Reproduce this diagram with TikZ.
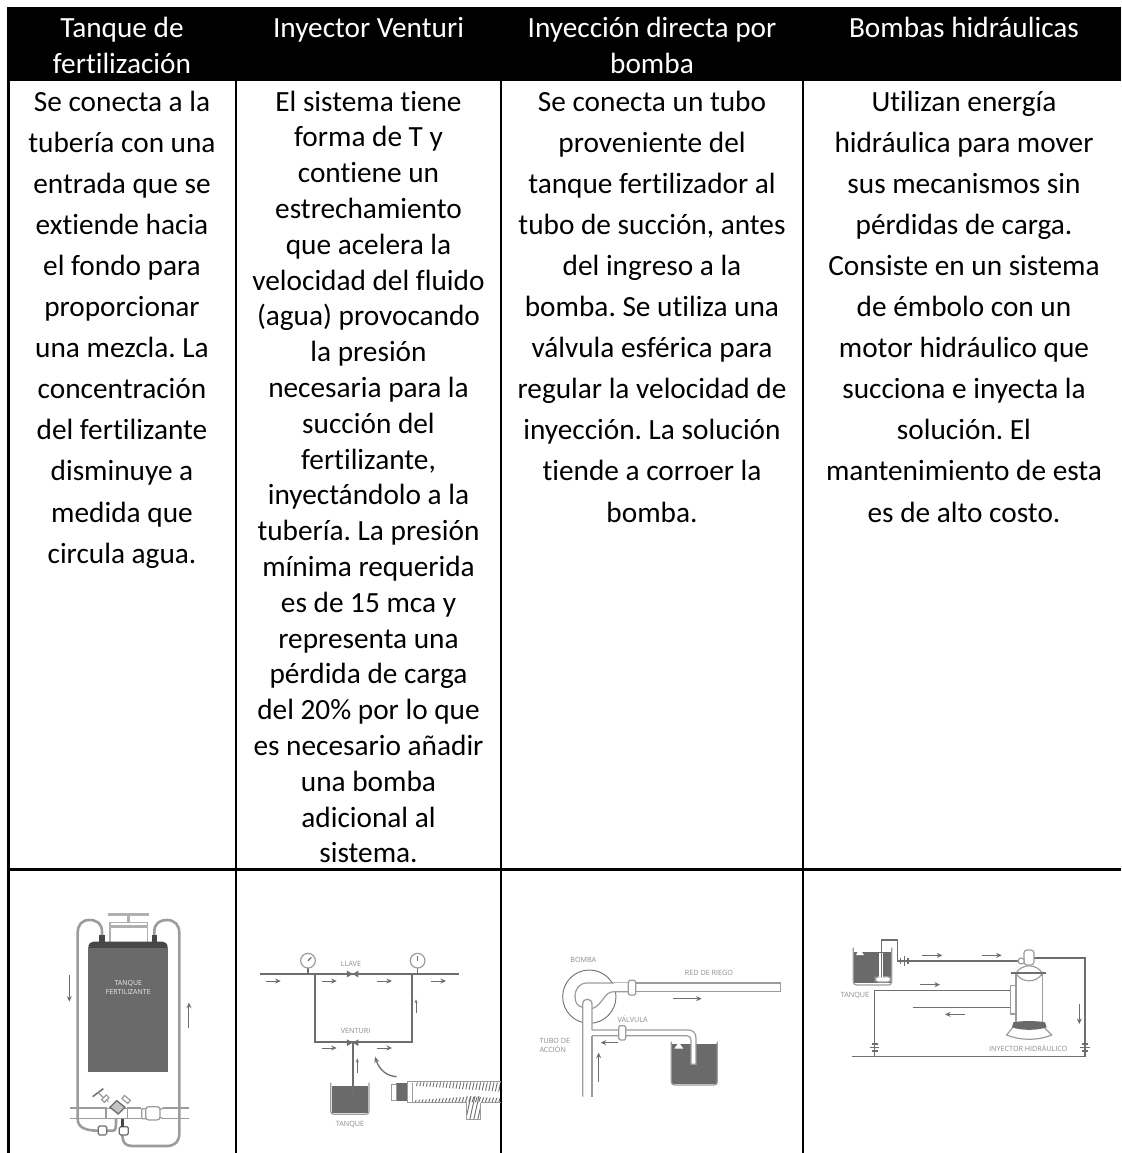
\documentclass[tikz,border=0pt]{standalone}
\usepackage{fontspec}
\setmainfont[Ligatures=NoCommon]{Carlito}
\newfontfamily\labelfont{Open Sans}
\usetikzlibrary{arrows.meta}
\newcommand{\firstline}{\rule{0pt}{26pt}}
\frenchspacing
\tikzset{
  rulebk/.style={line width=2.4pt,black},
  cellA/.style={anchor=north,inner sep=0pt,align=center,font=\fontsize{29.3}{41.1}\selectfont},
  cellB/.style={anchor=north,inner sep=0pt,align=center,font=\fontsize{29.3}{35.8}\selectfont},
  headcell/.style={anchor=north,inner sep=0pt,align=center,text=white,font=\fontsize{29.3}{36}\selectfont},
  tag/.style={inner sep=0pt,align=left,text=gray!90,font=\labelfont\fontsize{7.2}{9}\selectfont},
  pipe/.style={draw=graphite,line width=1.9pt},
  thin pipe/.style={draw=graphite,line width=1.2pt},
  flow/.style={draw=graphite,line width=1pt,-{Stealth[length=5.5pt,width=5pt]}},
}
\definecolor{graphite}{HTML}{6E6E6E}
\definecolor{softgray}{HTML}{9C9C9C}
\definecolor{tankgray}{HTML}{6A6A6A}
\definecolor{tankdark}{HTML}{474747}
\begin{document}
\begin{tikzpicture}[x=1pt,y=-1pt]
\useasboundingbox (0,0) rectangle (1121,1153);
\fill[white] (0,0) rectangle (1121,1153);
% header band
\fill[black] (7,7) rectangle (1121,81.5);
% rules
\draw[rulebk] (8.5,81) -- (8.5,1153);
\draw[rulebk] (236,81) -- (236,1153);
\draw[rulebk] (501,81) -- (501,1153);
\draw[rulebk] (803,81) -- (803,1153);
\draw[rulebk] (8,869.5) -- (1121,869.5);
% header text
\node[headcell] (h1) at (122,11.6) {\firstline Tanque de\\fertilización};
\node[headcell] (h2) at (368.5,11.6) {\firstline Inyector Venturi};
\node[headcell] (h3) at (652,11.6) {\firstline Inyección directa por\\bomba};
\node[headcell] (h4) at (964,11.6) {\firstline Bombas hidráulicas};
% body text
\node[cellA] (b1) at (122,84.8) {\firstline Se conecta a la\\tubería con una\\entrada que se\\extiende hacia\\el fondo para\\proporcionar\\una mezcla. La\\concentración\\del fertilizante\\disminuye a\\medida que\\circula agua.};
\node[cellB] (b2) at (368.5,84.8) {\firstline El sistema tiene\\forma de T y\\contiene un\\estrechamiento\\que acelera la\\velocidad del fluido\\(agua) provocando\\la presión\\necesaria para la\\succión del\\fertilizante,\\inyectándolo a la\\tubería. La presión\\mínima requerida\\es de 15 mca y\\representa una\\pérdida de carga\\del 20\% por lo que\\es necesario añadir\\una bomba\\adicional al\\sistema.};
\node[cellA] (b3) at (652,84.8) {\firstline Se conecta un tubo\\proveniente del\\tanque fertilizador al\\tubo de succión, antes\\del ingreso a la\\bomba. Se utiliza una\\válvula esférica para\\regular la velocidad de\\inyección. La solución\\tiende a corroer la\\bomba.};
\node[cellA] (b4) at (964,84.8) {\firstline Utilizan energía\\hidráulica para mover\\sus mecanismos sin\\pérdidas de carga.\\Consiste en un sistema\\de émbolo con un\\motor hidráulico que\\succiona e inyecta la\\solución. El\\mantenimiento de esta\\es de alto costo.};

% ---------- figure 1: tanque
\begin{scope}[shift={(0,870)},x=.3333pt,y=-.3333pt]
  % handle
  \draw[softgray!80,line width=3pt] (323,132) -- (447,132);
  \draw[softgray!80,line width=3.6pt] (386,135) -- (386,158);
  \draw[softgray!80,line width=1.6pt] (330,215) -- (330,158) -- (442,158) -- (442,215);
  \draw[softgray!80,line width=2.4pt] (330,170) -- (442,170);
  % feed pipes
  \draw[softgray,line width=2.6pt] (306,195) -- (306,185) .. controls (306,160) and (290,150) .. (268,150) .. controls (245,150) and (233,165) .. (233,190) -- (233,745) .. controls (233,770) and (250,782) .. (296,782);
  \draw[softgray,line width=2.6pt] (463,195) -- (463,185) .. controls (463,160) and (480,150) .. (500,150) .. controls (525,150) and (538,165) .. (538,190) -- (538,790) .. controls (538,815) and (525,828) .. (500,828) -- (395,828) .. controls (375,828) and (367,815) .. (367,795);
  \draw[softgray,line width=2.6pt] (320,782) -- (340,782) .. controls (348,782) and (348,770) .. (348,747);
  \fill[tankdark] (298,195) rectangle (315,215);
  \fill[tankdark] (455,195) rectangle (472,215);
  % tank
  \fill[tankgray] (265,230) rectangle (503,606);
  \fill[tankdark,rounded corners=5pt] (265,240) -- (265,215) -- (503,215) -- (503,240) -- cycle;
  \fill[tankgray] (265,233) rectangle (503,245);
  \node[text=white!85!gray,align=center,inner sep=0pt,font=\labelfont\fontsize{7}{9}\selectfont] (t1) at (385,352) {TANQUE\\FERTILIZANTE};
  % arrows
  \draw[flow] (208,315) -- (208,395);
  \draw[flow] (567,475) -- (567,398);
  % main pipe
  \draw[softgray,line width=1.2pt] (210,714) -- (320,714) (382,714) -- (424,714) (490,714) -- (567,714);
  \draw[softgray,line width=1.2pt] (210,746) -- (320,746) (382,746) -- (424,746) (490,746) -- (567,746);
  % valve
  \draw[softgray,line width=1.5pt,fill=white] (318,716) -- (383,716) -- (383,746) -- (318,746) -- cycle;
  \draw[graphite,line width=1.3pt,fill=softgray!60] (350,692) -- (375,712) -- (355,732) -- (330,712) -- cycle;
  \draw[graphite,line width=1.5pt] (278,680) -- (310,656);
  \draw[softgray,line width=1.2pt] (294,668) -- (325,695);
  \draw[softgray,line width=1.2pt,fill=white,rotate around={45:(316,686)}] (306,680) rectangle (326,692);
  \draw[softgray,line width=1.2pt,fill=white,rotate around={-40:(378,688)}] (367,682) rectangle (390,694);
  % meter
  \draw[softgray,line width=1.3pt,fill=white,rounded corners=3pt] (437,710) rectangle (480,750);
  \draw[softgray,line width=1.2pt] (425,716) -- (425,746) (437,716) -- (425,716) (437,746) -- (425,746) (480,718) -- (490,714) (480,742) -- (490,746);
  % small boxes
  \draw[graphite,line width=1.2pt,fill=white,rounded corners=1.5pt] (295,768) rectangle (320,795);
  \draw[graphite,line width=1.2pt,fill=white,rounded corners=1.5pt] (358,770) rectangle (385,795);
  \fill[tankdark] (362,746) rectangle (372,770);
\end{scope}

% ---------- figure 2: Venturi
\begin{scope}[shift={(240,930)},x=.3333pt,y=-.3333pt]
  \draw[pipe] (60,132) -- (657,132);
  \draw[pipe] (226,132) -- (226,337) -- (515,337) -- (515,132);
  \draw[pipe] (338,337) -- (338,500);
  \draw[thin pipe] (204,115) -- (204,132);
  \draw[thin pipe] (533,115) -- (533,132);
  \draw[softgray,line width=1.2pt,fill=white] (204,92) circle (22);
  \draw[softgray,line width=1.2pt,fill=white] (533,92) circle (22);
  \draw[graphite,line width=1.2pt] (204,92) -- (214,82);
  \draw[graphite,line width=1.2pt] (533,92) -- (533,78);
  \foreach \vy in {132,338}{
    \fill[graphite] (321,\vy-10) -- (355,\vy+10) -- (355,\vy-10) -- (321,\vy+10) -- cycle;
  }
  \node[tag] (t2) at (333,103) {LLAVE};
  \node[tag] (t3) at (347,303) {VENTURI};
  \node[tag] (t4) at (330,585) {TANQUE};
  \foreach \ax/\ay in {78/153,246/153,412/153,574/153,246/354,412/354}{
    \draw[flow] (\ax,\ay) -- (\ax+44,\ay);
  }
  \draw[flow,line width=.7pt,-{Stealth[length=4pt,width=3pt]}] (528,250) -- (528,208);
  \draw[flow,line width=.7pt,-{Stealth[length=4pt,width=3pt]}] (352,430) -- (352,385);
  \draw[graphite,line width=1.3pt,-{Stealth[length=6pt,width=5pt]}] (470,440) .. controls (440,438) and (418,420) .. (405,380);
  % tank
  \fill[tankgray] (276,468) rectangle (383,548);
  \draw[softgray,line width=1.2pt,rounded corners=3pt] (272,458) -- (272,553) -- (387,553) -- (387,458);
  \draw[graphite,line width=1.9pt] (338,468) -- (338,500);
\end{scope}
% nozzle
\begin{scope}[shift={(390,1050)},x=.3333pt,y=-.3333pt]
  \fill[tankgray] (18,98) rectangle (52,152);
  \draw[softgray,line width=1pt] (5,103) rectangle (18,150);
  \draw[softgray,line width=1pt] (52,95) -- (332,95) (52,158) -- (230,158) (272,158) -- (332,158) (52,95) -- (52,158) (67,98) -- (67,155);
  \begin{scope}
    \clip (72,97) -- (332,97) -- (332,125) -- (72,107) -- cycle;
    \foreach \hx in {75,85,...,345}{\draw[graphite,line width=.9pt] (\hx,130) -- (\hx+8,92);}
  \end{scope}
  \begin{scope}
    \clip (72,156) -- (332,156) -- (332,144) -- (240,140) -- (72,150) -- cycle;
    \foreach \hx in {75,85,...,345}{\draw[graphite,line width=.9pt] (\hx,160) -- (\hx+8,136);}
  \end{scope}
  \begin{scope}
    \clip (230,140) rectangle (272,208);
    \foreach \hx in {215,227,...,275}{\draw[graphite,line width=.9pt] (\hx,210) -- (\hx+16,138);}
  \end{scope}
  \draw[softgray,line width=1pt] (230,158) -- (230,208) -- (272,208) -- (272,158);
\end{scope}

% ---------- figure 3: bomba
\begin{scope}[shift={(510,950)},x=.3333pt,y=-.3333pt]
  \draw[graphite,line width=.9pt] (238,140) circle (80);
  \draw[softgray,line width=1.2pt,fill=white] (312,99) -- (232,99) .. controls (205,99) and (195,120) .. (195,140) .. controls (195,160) and (205,170) .. (218,172) -- (246,176) .. controls (280,165) and (280,125) .. (312,125) -- (355,125) -- (355,99) -- cycle;
  \draw[softgray,line width=1.2pt] (377,99) -- (812,99) -- (812,125) -- (377,125);
  \fill[white] (312,100) rectangle (354,124);
  \draw[softgray,line width=1.2pt,fill=white,rounded corners=1.5pt] (355,91) rectangle (377,135);
  % suction
  \draw[softgray,line width=1.3pt,fill=white] (218,440) -- (218,162) .. controls (218,143) and (246,143) .. (246,162) -- (246,240);
  \draw[softgray,line width=1.3pt] (246,257) -- (246,440);
  % branch
  \fill[tankgray] (486,283) rectangle (620,402);
  \fill[white] (493,296) -- (520,296) -- (510,282) -- (503,282) -- cycle;
  \draw[softgray,line width=1.2pt,rounded corners=3pt] (484,275) -- (484,405) -- (622,405) -- (622,275);
  \fill[white] (543,265) rectangle (558,343);
  \draw[softgray,line width=1.2pt] (246,240) -- (535,240) .. controls (550,240) and (558,250) .. (558,265) -- (558,343) -- (543,343) -- (543,270) .. controls (543,262) and (538,257) .. (530,257) -- (246,257);
  \draw[softgray,line width=1.2pt,fill=white,rounded corners=1.5pt] (326,227) rectangle (347,270);
  \draw[flow] (490,146) -- (575,146);
  \draw[flow] (325,278) -- (272,278);
  \draw[flow] (266,395) -- (266,308);
  \node[tag] (t5) at (220,29) {BOMBA};
  \node[tag] (t6) at (597,68) {RED DE RIEGO};
  \node[tag] (t7) at (368,208) {VÁLVULA};
  \node[tag,anchor=west] (t8) at (88,286) {TUBO DE\\ACCIÓN};
\end{scope}

% ---------- figure 4: hidraulico
\begin{scope}[shift={(810,920)},x=.3333pt,y=-.3333pt]
  \fill[tankgray] (133,95) rectangle (242,190);
  \fill[white] (138,105) -- (162,105) -- (155,95) -- (143,95) -- cycle;
  \draw[softgray,line width=1.2pt,rounded corners=3pt] (130,83) -- (130,195) -- (245,195) -- (245,83);
  \draw[softgray,line width=1.2pt,fill=white,rounded corners=3pt] (196,170) rectangle (242,186);
  \fill[white] (208,100) rectangle (218,170);
  \draw[graphite,line width=1.2pt] (215,170) -- (215,60) -- (263,60) -- (263,123) -- (625,123);
  \draw[graphite,line width=1.4pt] (283,108) -- (283,138);
  \draw[graphite,line width=1.4pt] (272,114) -- (272,132) (294,114) -- (294,132);
  \foreach \ax/\ay in {337/106,515/106,330/194}{\draw[flow,line width=.8pt] (\ax,\ay) -- (\ax+60,\ay);}
  \draw[flow,line width=.8pt] (465,283) -- (405,283);
  \draw[flow,line width=.8pt] (808,252) -- (808,312);
  \draw[graphite,line width=1.2pt] (672,114) -- (825,114) -- (825,410) -- (127,410);
  \draw[graphite,line width=1.2pt] (600,212) -- (194,212) -- (194,410);
  \draw[graphite,line width=1.2pt] (310,262) -- (600,262);
  \foreach \vx in {194,825}{
    \draw[graphite,line width=1.4pt] (\vx-14,382) -- (\vx+14,382);
    \draw[graphite,line width=1.4pt] (\vx-9,372) -- (\vx+9,372) (\vx-9,393) -- (\vx+9,393);
  }
  \draw[softgray,line width=1.2pt] (601,196) rectangle (618,282);
  \draw[softgray,line width=1.2pt,fill=white] (618,165) rectangle (697,310);
  \draw[softgray,line width=1.2pt,fill=white] (618,160) .. controls (635,130) and (680,130) .. (697,160) .. controls (680,190) and (635,190) .. (618,160);
  \draw[graphite,line width=2pt] (604,160) -- (708,160);
  \draw[softgray,line width=1.2pt,fill=white,rounded corners=3pt] (642,90) rectangle (672,135);
  \draw[softgray,line width=1.2pt,fill=white,rounded corners=1.5pt] (625,115) rectangle (642,131);
  \draw[softgray,line width=1.2pt,fill=white] (610,320) -- (590,345) .. controls (630,362) and (685,362) .. (725,345) -- (700,320);
  \fill[tankgray] (610,307) .. controls (630,302) and (685,302) .. (705,307) -- (710,322) .. controls (680,332) and (635,332) .. (606,322) -- cycle;
  \node[tag] (t9) at (135,227) {TANQUE};
  \node[tag] (t10) at (655,384) {INYECTOR HIDRÁULICO};
\end{scope}
\end{tikzpicture}
\end{document}
